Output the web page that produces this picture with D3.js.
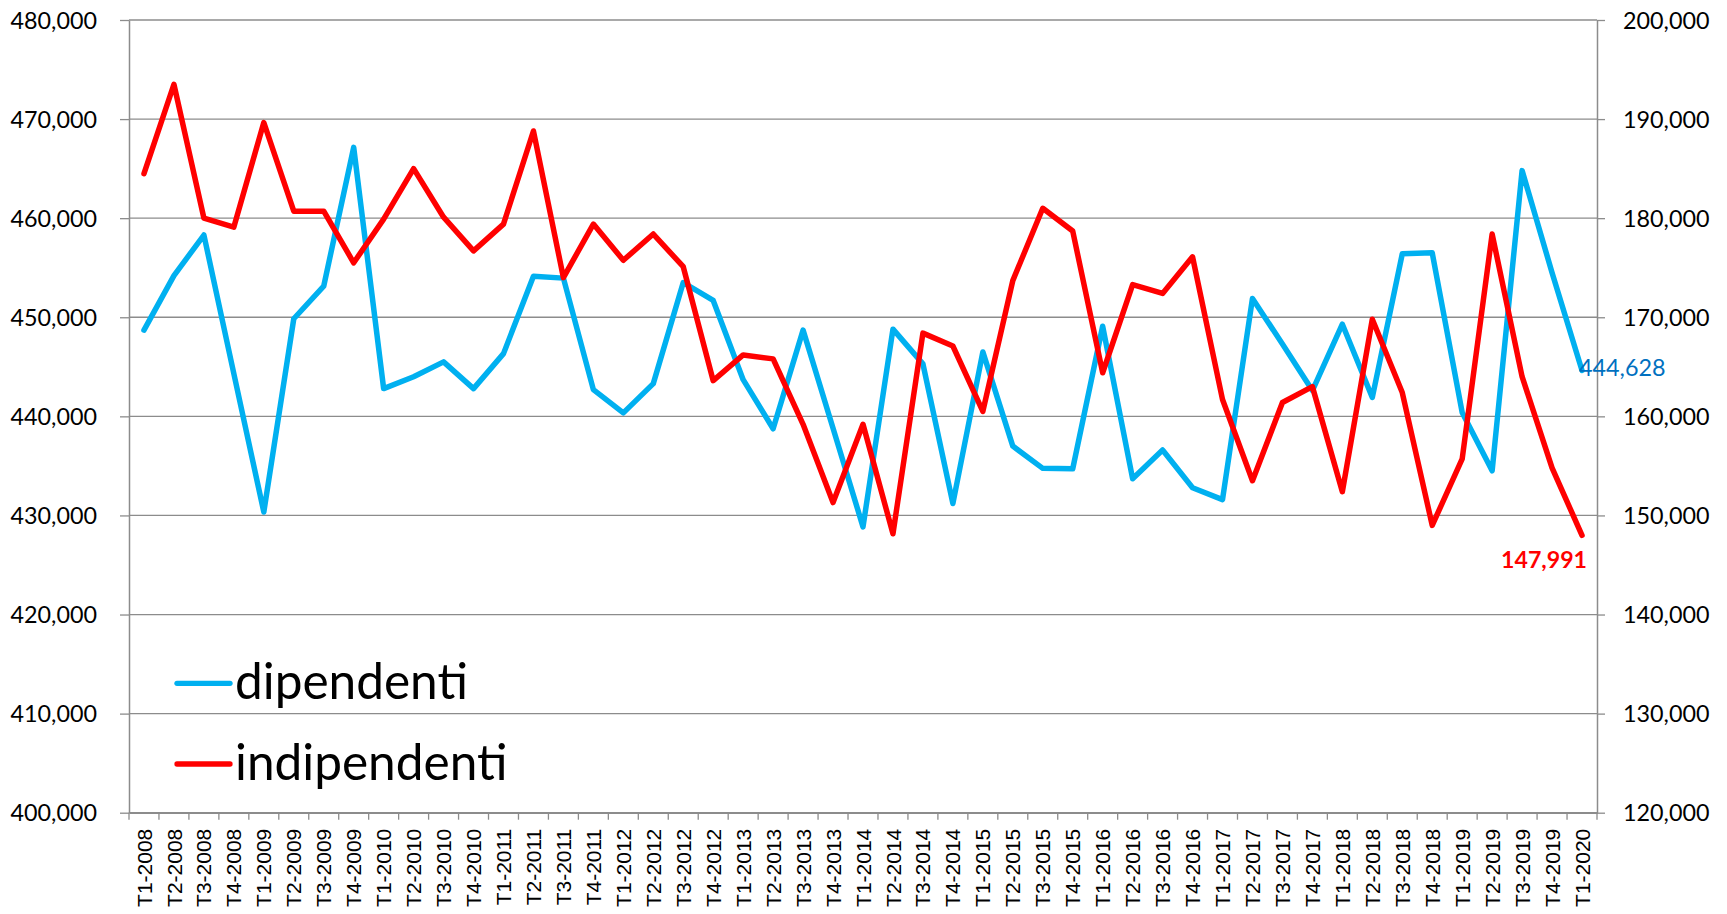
<!DOCTYPE html>
<html>
<head>
<meta charset="utf-8">
<script src="https://cdn.jsdelivr.net/npm/d3@7"></script>
<style>
  html, body { margin: 0; padding: 0; background: #fff; }
  svg { display: block; }
</style>
</head>
<body>
<svg id="chart" width="1727" height="914"></svg>
<script>
// ---------- DATA ----------
const categories = [
  "T1-2008","T2-2008","T3-2008","T4-2008",
  "T1-2009","T2-2009","T3-2009","T4-2009",
  "T1-2010","T2-2010","T3-2010","T4-2010",
  "T1-2011","T2-2011","T3-2011","T4-2011",
  "T1-2012","T2-2012","T3-2012","T4-2012",
  "T1-2013","T2-2013","T3-2013","T4-2013",
  "T1-2014","T2-2014","T3-2014","T4-2014",
  "T1-2015","T2-2015","T3-2015","T4-2015",
  "T1-2016","T2-2016","T3-2016","T4-2016",
  "T1-2017","T2-2017","T3-2017","T4-2017",
  "T1-2018","T2-2018","T3-2018","T4-2018",
  "T1-2019","T2-2019","T3-2019","T4-2019",
  "T1-2020"
];
// dipendenti (left axis)
const dipendenti = [
  448700, 454200, 458300, 444300,
  430350, 449850, 453150, 467150,
  442800, 444000, 445500, 442800,
  446330, 454150, 453950, 442700,
  440350, 443300, 453500, 451700,
  443700, 438750, 448700, 438800,
  428850, 448800, 445300, 431200,
  446500, 437000, 434750, 434700,
  449100, 433700, 436600, 432800,
  431600, 451900, 447300, 442600,
  449300, 441900, 456400, 456500,
  440400, 434500, 464800, 454500,
  444628
];
// indipendenti (right axis)
const indipendenti = [
  184500, 193500, 180000, 179100,
  189650, 180700, 180700, 175500,
  179900, 185000, 180100, 176700,
  179400, 188800, 174000, 179400,
  175750, 178400, 175100, 163600,
  166200, 165800, 159200, 151300,
  159200, 148150, 168400, 167100,
  160500, 173700, 181000, 178700,
  164400, 173300, 172400, 176100,
  161700, 153500, 161400, 163000,
  152400, 169800, 162400, 149000,
  155700, 178400, 164000, 154800,
  147991
];
const leftTicks  = [400000, 410000, 420000, 430000, 440000, 450000, 460000, 470000, 480000];
const rightTicks = [120000, 130000, 140000, 150000, 160000, 170000, 180000, 190000, 200000];
const seriesNames = ["dipendenti", "indipendenti"];
const lastLabels = ["444,628", "147,991"];

// ---------- LAYOUT ----------
const L = 129, R = 1597, T = 20, B = 812.7;
const BLUE = "#00B0F0", RED = "#FF0000", GRID = "#8c8c8c";
const LABEL_FONT = "Lato, 'Open Sans', sans-serif";

const svg = d3.select("#chart");
const x = d3.scaleBand().domain(categories).range([L, R]).paddingInner(0).paddingOuter(0);
const yL = d3.scaleLinear().domain([400000, 480000]).range([B, T]);
const yR = d3.scaleLinear().domain([120000, 200000]).range([B, T]);
const fmt = d3.format(",");

function fitFont(sample, target, base, weight) {
  const t = svg.append("text").attr("font-family", LABEL_FONT).attr("font-size", base)
    .attr("font-weight", weight || "normal").text(sample);
  const w = t.node().getComputedTextLength();
  t.remove();
  return base * target / w;
}
const tickFontSize = fitFont("480,000", 86.5, 26);
const legendFontSize = fitFont("dipendenti", 233, 52);
const boldFontSize = fitFont("147,991", 86, 26, "bold");

// gridlines
svg.append("g").selectAll("line").data(leftTicks).join("line")
  .attr("x1", L).attr("x2", R)
  .attr("y1", d => yL(d)).attr("y2", d => yL(d))
  .attr("stroke", GRID).attr("stroke-width", 1.3);

// left axis
const gL = svg.append("g").attr("transform", `translate(${L},0)`)
  .call(d3.axisLeft(yL).tickValues(leftTicks).tickFormat(fmt).tickSize(9).tickSizeOuter(0).tickPadding(23));
gL.select(".domain").attr("stroke", GRID).attr("stroke-width", 1.5);
gL.selectAll(".tick line").attr("stroke", GRID).attr("stroke-width", 1.3);
gL.selectAll(".tick text").attr("font-family", LABEL_FONT).attr("font-size", tickFontSize)
  .attr("fill", "#000").attr("dy", "0.35em");

// right axis
const gR = svg.append("g").attr("transform", `translate(${R},0)`)
  .call(d3.axisRight(yR).tickValues(rightTicks).tickFormat(fmt).tickSize(8).tickSizeOuter(0).tickPadding(18));
gR.select(".domain").attr("stroke", GRID).attr("stroke-width", 1.5);
gR.selectAll(".tick line").attr("stroke", GRID).attr("stroke-width", 1.3);
gR.selectAll(".tick text").attr("font-family", LABEL_FONT).attr("font-size", tickFontSize)
  .attr("fill", "#000").attr("dy", "0.35em");

// bottom axis: labels centred on categories, tick marks between categories
const gB = svg.append("g").attr("transform", `translate(0,${B})`)
  .call(d3.axisBottom(x).tickSize(0).tickSizeOuter(0).tickPadding(0));
gB.select(".domain").attr("stroke", GRID).attr("stroke-width", 1.5);
gB.selectAll(".tick text")
  .attr("font-family", "'Liberation Sans', Arial, sans-serif")
  .attr("font-size", 21).attr("fill", "#000")
  .attr("text-anchor", "end")
  .attr("transform", "translate(0,16) rotate(-90)")
  .attr("x", 0).attr("y", 0).attr("dy", "0.36em");
const boundaries = categories.map(c => x(c)).concat([x.range()[1]]);
svg.append("g").selectAll("line").data(boundaries).join("line")
  .attr("x1", d => d).attr("x2", d => d)
  .attr("y1", B).attr("y2", B + 7)
  .attr("stroke", GRID).attr("stroke-width", 1.3);

// lines
const cx = c => x(c) + x.bandwidth() / 2;
const lineL = d3.line().x((d, i) => cx(categories[i])).y(d => yL(d));
const lineR = d3.line().x((d, i) => cx(categories[i])).y(d => yR(d));

svg.append("path").datum(dipendenti).attr("d", lineL)
  .attr("fill", "none").attr("stroke", BLUE).attr("stroke-width", 5.5)
  .attr("stroke-linejoin", "round").attr("stroke-linecap", "round");
svg.append("path").datum(indipendenti).attr("d", lineR)
  .attr("fill", "none").attr("stroke", RED).attr("stroke-width", 5.5)
  .attr("stroke-linejoin", "round").attr("stroke-linecap", "round");

// last value labels
const last = categories.length - 1;
svg.append("text")
  .attr("x", cx(categories[last]) - 3).attr("y", yL(dipendenti[last]) - 3)
  .attr("dy", "0.35em").attr("text-anchor", "start")
  .attr("font-family", LABEL_FONT).attr("font-size", tickFontSize)
  .attr("fill", "#0070C0").text(lastLabels[0]);
svg.append("text")
  .attr("x", cx(categories[last]) + 5).attr("y", yR(indipendenti[last]) + 25)
  .attr("dy", "0.35em").attr("text-anchor", "end")
  .attr("font-family", LABEL_FONT).attr("font-size", boldFontSize).attr("font-weight", "bold")
  .attr("fill", RED).text(lastLabels[1]);

// legend
const legendRows = [
  { name: seriesNames[0], color: BLUE, y: 683.3 },
  { name: seriesNames[1], color: RED,  y: 764 }
];
const lg = svg.append("g");
lg.selectAll("line").data(legendRows).join("line")
  .attr("x1", 177).attr("x2", 230).attr("y1", d => d.y).attr("y2", d => d.y)
  .attr("stroke", d => d.color).attr("stroke-width", 5.3).attr("stroke-linecap", "round");
lg.selectAll("text").data(legendRows).join("text")
  .attr("x", 235).attr("y", d => d.y + 16)
  .attr("font-family", LABEL_FONT).attr("font-size", legendFontSize)
  .attr("fill", "#000").text(d => d.name);
</script>
</body>
</html>
